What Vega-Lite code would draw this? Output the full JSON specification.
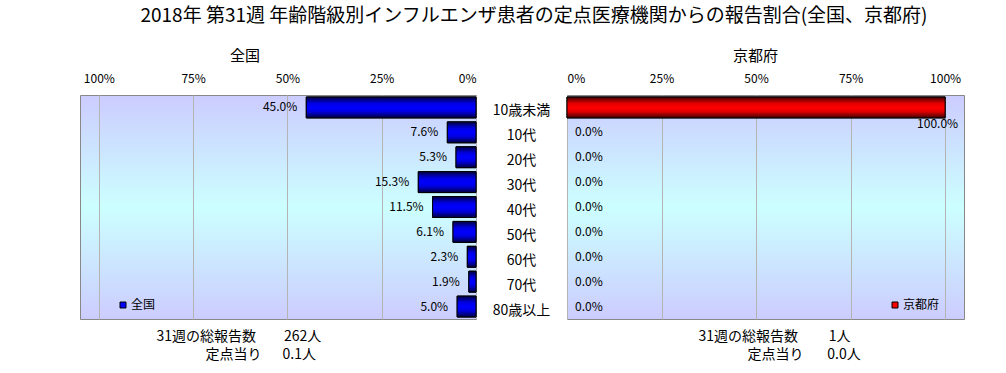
{
  "$schema": "https://vega.github.io/schema/vega-lite/v6.json",
  "background": "white",
  "padding": {"left": 79, "top": 6, "right": 5, "bottom": 0},
  "title": {"text": "2018年 第31週 年齢階級別インフルエンザ患者の定点医療機関からの報告割合(全国、京都府)", "fontSize": 19, "fontWeight": "normal", "anchor": "middle", "dx": 12, "offset": 23, "color": "black"},
  "datasets": {
    "national": [
      {"age": "10歳未満", "value": 0.450},
      {"age": "10代", "value": 0.076},
      {"age": "20代", "value": 0.053},
      {"age": "30代", "value": 0.153},
      {"age": "40代", "value": 0.115},
      {"age": "50代", "value": 0.061},
      {"age": "60代", "value": 0.023},
      {"age": "70代", "value": 0.019},
      {"age": "80歳以上", "value": 0.050}
    ],
    "kyoto": [
      {"age": "10歳未満", "value": 1.0},
      {"age": "10代", "value": 0},
      {"age": "20代", "value": 0},
      {"age": "30代", "value": 0},
      {"age": "40代", "value": 0},
      {"age": "50代", "value": 0},
      {"age": "60代", "value": 0},
      {"age": "70代", "value": 0},
      {"age": "80歳以上", "value": 0}
    ]
  },
  "spacing": 0,
  "hconcat": [
    {
      "width": 396,
      "height": 224,
      "title": {"text": "全国", "fontSize": 15, "fontWeight": "normal", "dx": -33, "offset": 8, "color": "black"},
      "data": {"name": "national"},
      "view": {"stroke": "#888888", "fill": {"gradient": "linear", "x1": 0, "y1": 0, "x2": 0, "y2": 1, "stops": [{"offset": 0, "color": "#ccccff"}, {"offset": 0.5, "color": "#ccffff"}, {"offset": 1, "color": "#ccccff"}]}},
      "encoding": {
        "y": {"field": "age", "type": "nominal", "sort": null, "axis": null, "scale": {"paddingInner": 0.16, "paddingOuter": 0.08}}
      },
      "layer": [
        {
          "mark": {"type": "bar", "color": "#0000ff", "stroke": "black", "strokeWidth": 1},
          "encoding": {
            "x": {"field": "value", "type": "quantitative", "scale": {"domain": [0, 1.05], "reverse": true, "nice": false, "zero": true},
              "axis": {"orient": "top", "values": [0, 0.25, 0.5, 0.75, 1], "format": ".0%", "grid": true, "title": null, "labelPadding": 10}},
            "color": {"datum": "全国", "scale": {"range": ["#0000ff"]},
              "legend": {"orient": "none", "legendX": 37, "legendY": 204, "title": null, "symbolType": "square", "symbolSize": 36, "symbolStrokeColor": "black", "symbolStrokeWidth": 1, "labelFontSize": 12, "labelOffset": 2}}
          }
        },
        {
          "mark": {"type": "bar", "stroke": "black", "strokeWidth": 1, "fill": {"gradient": "linear", "x1": 0, "y1": 0, "x2": 0, "y2": 1, "stops": [{"offset": 0, "color": "#000040"}, {"offset": 0.3, "color": "#0000e0"}, {"offset": 0.5, "color": "#0000ff"}, {"offset": 0.7, "color": "#0000e0"}, {"offset": 1, "color": "#000040"}]}},
          "encoding": {"x": {"field": "value", "type": "quantitative", "axis": null}}
        },
        {
          "mark": {"type": "text", "align": "right", "dx": -9, "fontSize": 12, "color": "black"},
          "encoding": {
            "x": {"field": "value", "type": "quantitative",
              "axis": {"orient": "bottom", "labels": false, "grid": false, "domain": false, "ticks": false,
                "title": ["31週の総報告数　\u2002\u2002262人", "\u200b　　　\u2002定点当り　\u20020.1人"], "titleAnchor": "start", "titleAlign": "left", "titleBaseline": "top", "titleX": 76, "titlePadding": 10, "titleFontSize": 14, "titleFontWeight": "normal", "titleLineHeight": 18, "titleColor": "black"}},
            "text": {"field": "value", "type": "quantitative", "format": ".1%"}
          }
        }
      ]
    },
    {
      "width": 89,
      "height": 224,
      "data": {"name": "national"},
      "view": {"stroke": null, "fill": null},
      "mark": {"type": "text", "fontSize": 14, "dy": 4, "color": "black"},
      "encoding": {
        "y": {"field": "age", "type": "nominal", "sort": null, "axis": null, "scale": {"paddingInner": 0.16, "paddingOuter": 0.08}},
        "text": {"field": "age", "type": "nominal"}
      }
    },
    {
      "width": 397,
      "height": 224,
      "title": {"text": "京都府", "fontSize": 15, "fontWeight": "normal", "dx": -10, "offset": 8, "color": "black"},
      "data": {"name": "kyoto"},
      "view": {"stroke": "#888888", "fill": {"gradient": "linear", "x1": 0, "y1": 0, "x2": 0, "y2": 1, "stops": [{"offset": 0, "color": "#ccccff"}, {"offset": 0.5, "color": "#ccffff"}, {"offset": 1, "color": "#ccccff"}]}},
      "encoding": {
        "y": {"field": "age", "type": "nominal", "sort": null, "axis": null, "scale": {"paddingInner": 0.16, "paddingOuter": 0.08}}
      },
      "layer": [
        {
          "transform": [{"filter": "datum.value > 0"}],
          "mark": {"type": "bar", "color": "#ff0000", "stroke": "black", "strokeWidth": 1},
          "encoding": {
            "x": {"field": "value", "type": "quantitative", "scale": {"domain": [0, 1.05], "nice": false, "zero": true},
              "axis": {"orient": "top", "values": [0, 0.25, 0.5, 0.75, 1], "format": ".0%", "grid": true, "title": null, "labelPadding": 10}},
            "color": {"datum": "京都府", "scale": {"range": ["#ff0000"]},
              "legend": {"orient": "none", "legendX": 322, "legendY": 204, "title": null, "symbolType": "square", "symbolSize": 36, "symbolStrokeColor": "black", "symbolStrokeWidth": 1, "labelFontSize": 12, "labelOffset": 2}}
          }
        },
        {
          "transform": [{"filter": "datum.value > 0"}],
          "mark": {"type": "bar", "stroke": "black", "strokeWidth": 1, "fill": {"gradient": "linear", "x1": 0, "y1": 0, "x2": 0, "y2": 1, "stops": [{"offset": 0, "color": "#400000"}, {"offset": 0.3, "color": "#e00000"}, {"offset": 0.5, "color": "#ff0000"}, {"offset": 0.7, "color": "#e00000"}, {"offset": 1, "color": "#400000"}]}},
          "encoding": {"x": {"field": "value", "type": "quantitative", "axis": null}}
        },
        {
          "transform": [{"filter": "datum.value < 0.5"}],
          "mark": {"type": "text", "align": "left", "dx": 8, "fontSize": 12, "color": "black"},
          "encoding": {
            "x": {"field": "value", "type": "quantitative",
              "axis": {"orient": "bottom", "labels": false, "grid": false, "domain": false, "ticks": false,
                "title": ["31週の総報告数　\u2002\u2002\u20091人", "\u200b　　　\u2002定点当り　\u2002\u20090.0人"], "titleAnchor": "start", "titleAlign": "left", "titleBaseline": "top", "titleX": 131, "titlePadding": 10, "titleFontSize": 14, "titleFontWeight": "normal", "titleLineHeight": 18, "titleColor": "black"}},
            "text": {"field": "value", "type": "quantitative", "format": ".1%"}
          }
        },
        {
          "transform": [{"filter": "datum.value >= 0.5"}],
          "mark": {"type": "text", "align": "right", "dx": 13, "dy": 17, "fontSize": 12, "color": "black"},
          "encoding": {
            "x": {"field": "value", "type": "quantitative", "axis": null},
            "text": {"field": "value", "type": "quantitative", "format": ".1%"}
          }
        }
      ]
    }
  ],
  "resolve": {"scale": {"color": "independent"}},
  "config": {
    "font": "Noto Sans CJK JP",
    "axis": {"labelFontSize": 12, "labelColor": "black", "gridColor": "#b4b4b4", "domain": false, "ticks": false, "labelFont": "Noto Sans CJK JP"},
    "legend": {"labelFont": "Noto Sans CJK JP", "labelColor": "black"}
  }
}
